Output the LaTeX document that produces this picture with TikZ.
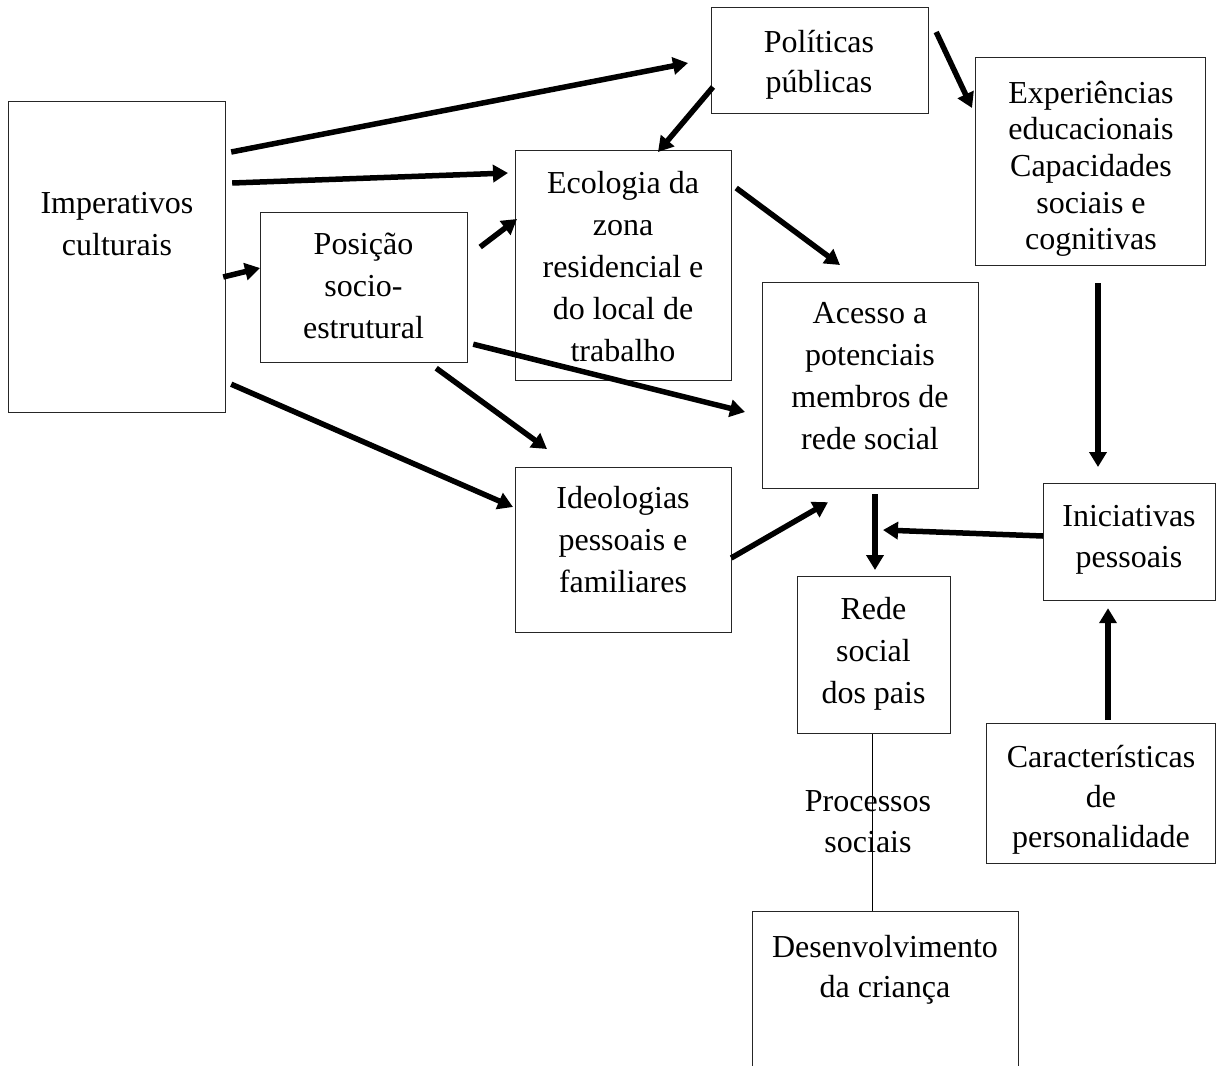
\documentclass[tikz,border=0pt]{standalone}
\usepackage{fontspec}
\setmainfont{Liberation Serif}
\usetikzlibrary{arrows.meta}
\tikzset{
  box/.style={draw=black!85, line width=1.2pt, inner sep=0pt, anchor=north west, fill=none},
  txt/.style={inner sep=0pt, outer sep=0pt, anchor=north, align=center,
    font=\fontsize{32}{42}\selectfont, execute at begin node=\strut},
  arr/.style={line width=5.5pt, -{Triangle[length=15pt,width=17pt]}, black},
  link/.style={line width=1.3pt, black}
}
\begin{document}
\begin{tikzpicture}[x=1pt,y=-1pt]
\useasboundingbox (0,0) rectangle (1216,1066);
\clip (0,0) rectangle (1216,1066);
% boxes
\node[box, minimum width=217pt, minimum height=311pt] (imp) at (8,101) {};
\node[box, minimum width=217pt, minimum height=106pt] (pol) at (711,7) {};
\node[box, minimum width=230pt, minimum height=208pt] (exp) at (975,57) {};
\node[box, minimum width=216pt, minimum height=230pt] (eco) at (515,150) {};
\node[box, minimum width=207pt, minimum height=150pt] (pos) at (260,212) {};
\node[box, minimum width=216pt, minimum height=206pt] (ace) at (762,282) {};
\node[box, minimum width=216pt, minimum height=165pt] (ide) at (515,467) {};
\node[box, minimum width=172pt, minimum height=117pt] (ini) at (1043,483) {};
\node[box, minimum width=153pt, minimum height=157pt] (rede) at (797,576) {};
\node[box, minimum width=229pt, minimum height=140pt] (car) at (986,723) {};
\node[box, minimum width=266pt, minimum height=170pt] (des) at (752,911) {};
% texts
\node[txt] (impt) at (117,192.6) {Imperativos\\culturais};
\node[txt, font=\fontsize{32}{40}\selectfont] (polt) at (819,30) {Políticas\\públicas};
\node[txt, font=\fontsize{32}{36.6}\selectfont] (expt) at (1091,81) {Experiências\\educacionais\\Capacidades\\sociais e\\cognitivas};
\node[txt] (ecot) at (623,171.6) {Ecologia da\\zona\\residencial e\\do local de\\trabalho};
\node[txt] (post) at (363.5,232.6) {Posição\\socio-\\estrutural};
\node[txt] (acet) at (870,302.6) {Acesso a\\potenciais\\membros de\\rede social};
\node[txt] (idet) at (623,486.6) {Ideologias\\pessoais e\\familiares};
\node[txt, font=\fontsize{32}{41}\selectfont] (init) at (1129,505.3) {Iniciativas\\pessoais};
\node[txt] (redet) at (873.5,597.6) {Rede\\social\\dos pais};
\node[txt, font=\fontsize{32}{40}\selectfont] (cart) at (1101,745) {Características\\de\\personalidade};
\node[txt, font=\fontsize{32}{40}\selectfont] (dest) at (885,935) {Desenvolvimento\\da criança};
\node[txt, font=\fontsize{32}{41}\selectfont] (proc) at (868,791) {Processos\\sociais};
% link line
\draw[link] ([shift={(-1.5,0)}]rede.south) -- ([shift={(-13,0)}]des.north);
% arrows
\draw[arr] ([shift={(5,51)}]imp.north east) -- ([shift={(-23,56)}]pol.north west);
\draw[arr] ([shift={(6,82)}]imp.north east) -- ([shift={(-7,23)}]eco.north west);
\draw[arr] ([shift={(-3,176)}]imp.north east) -- ([shift={(0,56)}]pos.north west);
\draw[arr] ([shift={(5,-29)}]imp.south east) -- ([shift={(-2,40)}]ide.north west);
\draw[arr] ([shift={(2,80)}]pol.north west) -- ([shift={(143,2)}]eco.north west);
\draw[arr] ([shift={(7,25)}]pol.north east) -- ([shift={(-3,51)}]exp.north west);
\draw[arr] ([shift={(12,35)}]pos.north east) -- ([shift={(2,69)}]eco.north west);
\draw[arr] ([shift={(5,-19)}]pos.south east) -- ([shift={(-17,130)}]ace.north west);
\draw[arr] ([shift={(-32,5)}]pos.south east) -- ([shift={(32,-18)}]ide.north west);
\draw[arr] ([shift={(4,38)}]eco.north east) -- ([shift={(78,-17)}]ace.north west);
\draw[arr] ([shift={(-1,91)}]ide.north east) -- ([shift={(66,13)}]ace.south west);
\draw[arr] ([shift={(113,5)}]ace.south west) -- ([shift={(78,-6)}]rede.north west);
\draw[arr] ([shift={(123,17)}]exp.south west) -- ([shift={(55,-16)}]ini.north west);
\draw[arr] ([shift={(0,53)}]ini.north west) -- ([shift={(86,-46)}]rede.north west);
\draw[arr] ([shift={(122,-3)}]car.north west) -- ([shift={(65,7)}]ini.south west);
\end{tikzpicture}
\end{document}
